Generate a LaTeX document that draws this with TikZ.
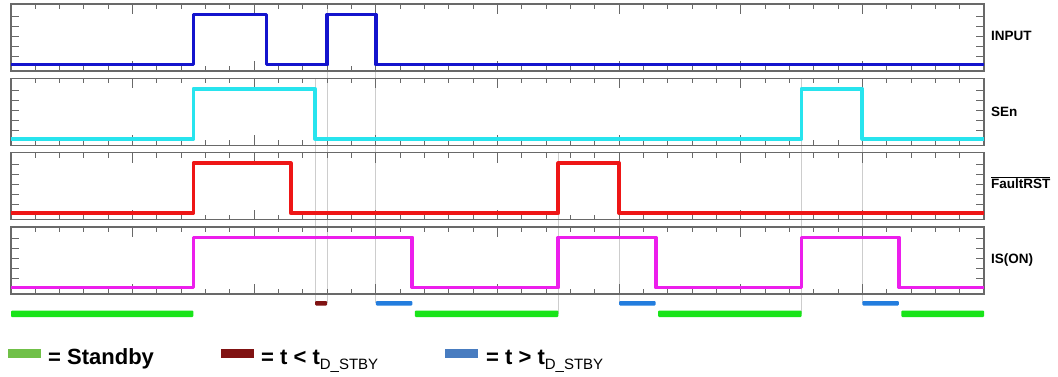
\documentclass[tikz,border=0pt]{standalone}
\usepackage{fontspec}
\setmainfont{Liberation Sans}
\definecolor{cInput}{RGB}{20,20,205}
\definecolor{cSEn}{RGB}{40,228,238}
\definecolor{cFault}{RGB}{238,22,22}
\definecolor{cIS}{RGB}{236,30,236}
\definecolor{cGreenBar}{RGB}{25,228,25}
\definecolor{cBlueBar}{RGB}{35,125,222}
\definecolor{cRedBar}{RGB}{128,18,18}
\definecolor{cGreenSw}{RGB}{112,192,72}
\definecolor{cBlueSw}{RGB}{72,124,192}
\definecolor{cFrame}{RGB}{105,105,105}
\definecolor{cGuide}{RGB}{205,205,205}
\begin{document}
\begin{tikzpicture}[x=1pt,y=-1pt,
  frame/.style={draw=cFrame, line width=1.6pt},
  tickmark/.style={draw=cFrame, line width=1pt},
  sig/.style={line width=3.8pt, line join=round},
  guide/.style={draw=cGuide, line width=0.8pt},
  lbl/.style={font=\fontsize{13.5}{13.5}\selectfont\bfseries, anchor=base west, inner sep=0pt},
  legtxt/.style={font=\fontsize{22}{22}\selectfont\bfseries, anchor=base west, inner sep=0pt},
  swatch/.style={minimum width=33pt, minimum height=9pt, inner sep=0pt, draw=none}]
\useasboundingbox (0,0) rectangle (1058,376);
\fill[white] (0,0) rectangle (1058,376);

\begin{scope}[shift={(11pt,0pt)}, x=24.325pt, y=-1pt]
  % guide lines
  \draw[guide] (12.5,78.3) -- (12.5,303);
  \draw[guide] (13,4) -- (13,303);
  \draw[guide] (15,4) -- (15,303);
  \draw[guide] (22.5,152.6) -- (22.5,314);
  \draw[guide] (25,152.6) -- (25,303);
  \draw[guide] (32.5,78.3) -- (32.5,314);
  \draw[guide] (35,78.3) -- (35,303);

  % panels with ticks
  \foreach \T in {4,78.3,152.6,226.9}{
    \foreach \k in {1,...,39}{
      \pgfmathparse{mod(\k,5)==0 ? 10 : 5}
      \let\len\pgfmathresult
      \draw[tickmark] (\k,\T) -- ++(0,\len);
      \draw[tickmark] (\k,\T+67) -- ++(0,-\len);
    }
    \foreach \j in {12,22,32,42,52}{
      \draw[tickmark] (0,\T+\j) -- ++(8pt,0pt);
      \draw[tickmark] (40,\T+\j) -- ++(-8pt,0pt);
    }
    \draw[frame] (0,\T) rectangle (40,\T+67);
  }

  % signals
  \draw[sig, cInput] (0,64.5) -- (7.5,64.5) -- (7.5,14.5) -- (10.5,14.5) -- (10.5,64.5)
     -- (13,64.5) -- (13,14.5) -- (15,14.5) -- (15,64.5) -- (40,64.5);
  \draw[sig, cSEn] (0,138.8) -- (7.5,138.8) -- (7.5,88.8) -- (12.5,88.8) -- (12.5,138.8)
     -- (32.5,138.8) -- (32.5,88.8) -- (35,88.8) -- (35,138.8) -- (40,138.8);
  \draw[sig, cFault] (0,213.1) -- (7.5,213.1) -- (7.5,163.1) -- (11.5,163.1) -- (11.5,213.1)
     -- (22.5,213.1) -- (22.5,163.1) -- (25,163.1) -- (25,213.1) -- (40,213.1);
  \draw[sig, cIS] (0,287.4) -- (7.5,287.4) -- (7.5,237.4) -- (16.5,237.4) -- (16.5,287.4)
     -- (22.5,287.4) -- (22.5,237.4) -- (26.5,237.4) -- (26.5,287.4)
     -- (32.5,287.4) -- (32.5,237.4) -- (36.5,237.4) -- (36.5,287.4) -- (40,287.4);

  % state bars
  \fill[cRedBar, rounded corners=1pt] (12.5,301) rectangle (13,305.5);
  \fill[cBlueBar, rounded corners=1pt] (15,301) rectangle (16.5,305.5);
  \fill[cBlueBar, rounded corners=1pt] (25,301) rectangle (26.5,305.5);
  \fill[cBlueBar, rounded corners=1pt] (35,301) rectangle (36.5,305.5);
  \fill[cGreenBar, rounded corners=1pt] (0,310.5) rectangle (7.5,317);
  \fill[cGreenBar, rounded corners=1pt] (16.6,310.5) rectangle (22.5,317);
  \fill[cGreenBar, rounded corners=1pt] (26.6,310.5) rectangle (32.5,317);
  \fill[cGreenBar, rounded corners=1pt] (36.6,310.5) rectangle (40,317);
\end{scope}

% signal labels
\node[lbl] (linput) at (991,40.5) {INPUT};
\node[lbl] (lsen) at (991,116.5) {SEn};
\node[lbl] (lfault) at (991,188.5) {$\overline{\hbox{\fontsize{13.5}{13.5}\selectfont\bfseries FaultRST}}$};
\node[lbl] (lis) at (991,263) {IS(ON)};

% legend
\node[swatch, fill=cGreenSw] (swg) at (24.5,353) {};
\node[legtxt] (tg) at (48,364) {= Standby};
\node[swatch, fill=cRedBar] (swr) at (237.5,353) {};
\node[legtxt] (tr) at (261,364) {= t < t\raisebox{-5pt}{\fontsize{15}{15}\selectfont\mdseries D\_STBY}};
\node[swatch, fill=cBlueSw] (swb) at (461.5,353) {};
\node[legtxt] (tb) at (486,364) {= t > t\raisebox{-5pt}{\fontsize{15}{15}\selectfont\mdseries D\_STBY}};
\end{tikzpicture}
\end{document}
